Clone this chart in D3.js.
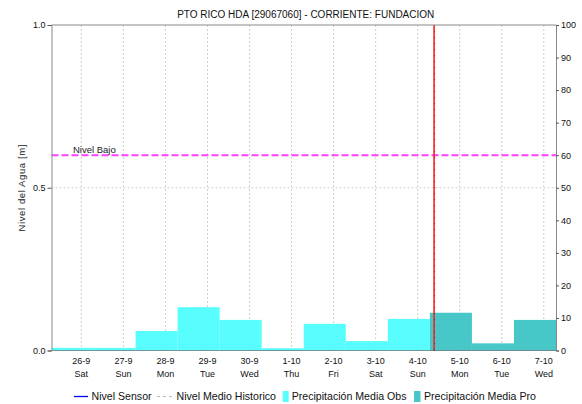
<!DOCTYPE html>
<html><head><meta charset="utf-8">
<script src="https://cdn.jsdelivr.net/npm/d3@7"></script>
<style>body{margin:0;background:#fff;} svg{display:block;font-family:"Liberation Sans",Arial,sans-serif;}</style>
</head><body>
<script>
const title = "PTO RICO HDA [29067060] - CORRIENTE: FUNDACION";
const dateLabels = ["26-9","27-9","28-9","29-9","30-9","1-10","2-10","3-10","4-10","5-10","6-10","7-10"];
const dayLabels = ["Sat","Sun","Mon","Tue","Wed","Thu","Fri","Sat","Sun","Mon","Tue","Wed"];
// daily precipitation (right axis, 0-100); bars span each day shifted by UTC-5
const obsDays = [0,1,2,3,4,5,6,7,8];
const obsPrecip = [0.8,0.8,6.0,13.3,9.4,0.7,8.2,2.9,9.7];
const proDays = [9,10,11];
const proPrecip = [11.6,2.2,9.4];
const nivelBajo = 0.6;      // left axis (m)
const nowDay = 8.89;        // current time in days from 26-9 00:00
const dayShift = -0.21;     // day window start offset (days)
const leftTicks = [0,0.5,1];
const rightTicks = [0,10,20,30,40,50,60,70,80,90,100];

const W=582,H=404;
const m={l:51.5,r:556,t:25,b:350.5};
const svg=d3.select("body").append("svg").attr("width",W).attr("height",H);

const x=d3.scaleLinear().domain([dayShift,12+dayShift]).range([m.l,m.r]);
const yL=d3.scaleLinear().domain([0,1]).range([m.b,m.t]);
const yR=d3.scaleLinear().domain([0,100]).range([m.b,m.t]);

// title
svg.append("text").attr("x",(m.l+m.r)/2+2).attr("y",18).attr("text-anchor","middle")
  .attr("font-size",10).attr("fill","#111").text(title);

// grid vertical
const g=svg.append("g");
g.selectAll("line.vg").data(dateLabels).join("line")
  .attr("x1",(d,i)=>x(i+0.5)).attr("x2",(d,i)=>x(i+0.5))
  .attr("y1",m.t).attr("y2",m.b).attr("stroke","#cfcfcf").attr("stroke-dasharray","2,2");
// horizontal grid at 0.5
g.append("line").attr("x1",m.l).attr("x2",m.r).attr("y1",yL(0.5)).attr("y2",yL(0.5))
  .attr("stroke","#cfcfcf").attr("stroke-dasharray","2,2");

// bars
svg.append("g").selectAll("rect").data(obsDays).join("rect")
  .attr("x",d=>x(d+dayShift)).attr("width",d=>x(d+1+dayShift)-x(d+dayShift))
  .attr("y",(d,i)=>yR(obsPrecip[i])).attr("height",(d,i)=>yR(0)-yR(obsPrecip[i]))
  .attr("fill","#58fefe");
svg.append("g").selectAll("rect").data(proDays).join("rect")
  .attr("x",d=>x(d+dayShift)).attr("width",d=>x(d+1+dayShift)-x(d+dayShift))
  .attr("y",(d,i)=>yR(proPrecip[i])).attr("height",(d,i)=>yR(0)-yR(proPrecip[i]))
  .attr("fill","#47c7c7");

// nivel bajo
svg.append("line").attr("x1",m.l).attr("x2",m.r).attr("y1",yL(nivelBajo)).attr("y2",yL(nivelBajo))
  .attr("stroke","#ff40ff").attr("stroke-width",2).attr("stroke-dasharray","7,3");
svg.append("text").attr("x",73).attr("y",yL(nivelBajo)-2).attr("font-size",9.5).attr("fill","#222").text("Nivel Bajo");

// now line
svg.append("line").attr("x1",x(nowDay)).attr("x2",x(nowDay)).attr("y1",m.t).attr("y2",m.b)
  .attr("stroke","#ff2020").attr("stroke-width",1.6);
svg.append("line").attr("x1",x(nowDay)+0.5).attr("x2",x(nowDay)+0.5).attr("y1",m.t).attr("y2",m.b)
  .attr("stroke","#7a1010").attr("stroke-width",1).attr("stroke-dasharray","1,5").attr("opacity",0.6);

// frame
svg.append("line").attr("x1",m.l).attr("x2",m.r).attr("y1",m.t).attr("y2",m.t).attr("stroke","#888");
svg.append("line").attr("x1",m.l).attr("x2",m.r).attr("y1",m.b).attr("y2",m.b).attr("stroke","#333").attr("stroke-dasharray","1,1");

// left axis
const la=svg.append("g").attr("transform",`translate(${m.l},0)`)
  .call(d3.axisLeft(yL).tickValues(leftTicks).tickFormat(d3.format(".1f")).tickSize(4).tickPadding(2));
// right axis
const ra=svg.append("g").attr("transform",`translate(${m.r},0)`)
  .call(d3.axisRight(yR).tickValues(rightTicks).tickSize(3).tickPadding(2));
[la,ra].forEach(a=>{a.select(".domain").attr("stroke","#888");a.selectAll(".tick line").attr("stroke","#555");
  a.selectAll("text").attr("font-size",9).attr("fill","#111").attr("font-family","Liberation Sans, Arial, sans-serif");});

// x labels
const xl=svg.append("g");
xl.selectAll("text.d").data(dateLabels).join("text").attr("x",(d,i)=>x(i+0.5)).attr("y",364)
  .attr("text-anchor","middle").attr("font-size",9).attr("fill","#111").text(d=>d);
xl.selectAll("text.w").data(dayLabels).join("text").attr("x",(d,i)=>x(i+0.5)).attr("y",377)
  .attr("text-anchor","middle").attr("font-size",9).attr("fill","#111").text(d=>d);

// y label
svg.append("text").attr("transform",`translate(25,${yL(0.5)}) rotate(-90)`).attr("text-anchor","middle")
  .attr("font-size",9.5).attr("letter-spacing",0.6).attr("fill","#222").text("Nivel del Agua [m]");

// legend
const lg=svg.append("g").attr("font-size",10.6).attr("fill","#111");
lg.append("line").attr("x1",74).attr("x2",88).attr("y1",396.5).attr("y2",396.5).attr("stroke","#0000ff").attr("stroke-width",1.3);
lg.append("text").attr("x",91.5).attr("y",400).text("Nivel Sensor");
lg.append("line").attr("x1",157).attr("x2",173).attr("y1",396.5).attr("y2",396.5).attr("stroke","#bbb").attr("stroke-dasharray","3,3");
lg.append("text").attr("x",176.5).attr("y",400).text("Nivel Medio Historico");
lg.append("rect").attr("x",282.7).attr("y",391).attr("width",6).attr("height",11).attr("fill","#58fefe");
lg.append("text").attr("x",291.7).attr("y",400).text("Precipitación Media Obs");
lg.append("rect").attr("x",414).attr("y",391).attr("width",6.5).attr("height",11).attr("fill","#47c7c7");
lg.append("text").attr("x",424).attr("y",400).text("Precipitación Media Pro");
</script>
</body></html>
